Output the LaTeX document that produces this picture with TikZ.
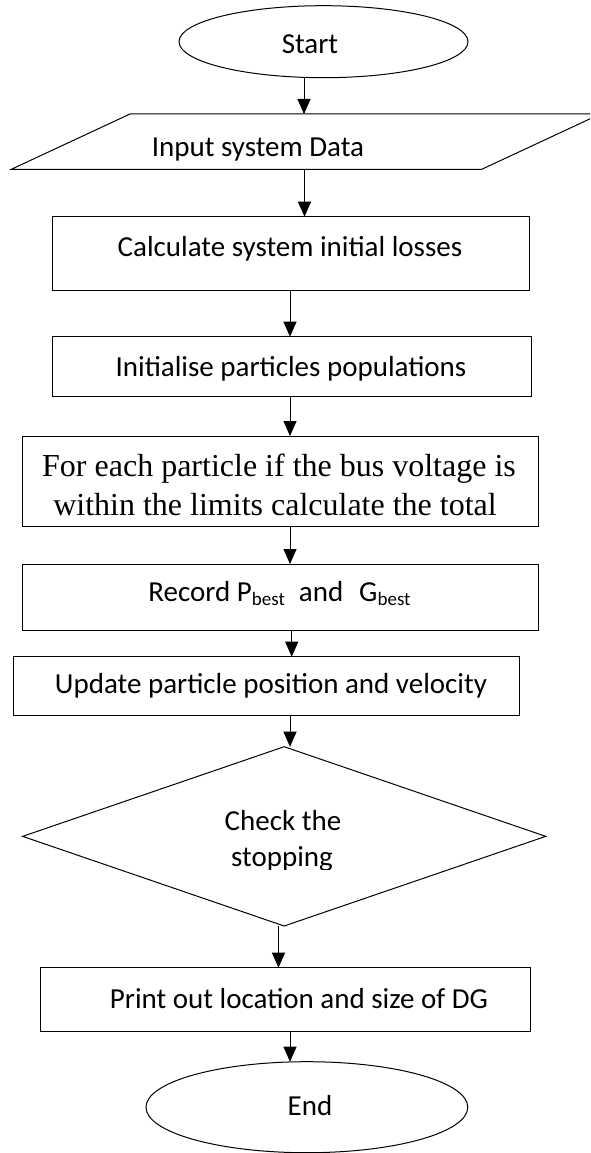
\documentclass[tikz,border=0pt]{standalone}
\usepackage{fontspec}
\setmainfont{Carlito}
\newfontfamily\tnr{Liberation Serif}
\usetikzlibrary{shapes.geometric,arrows.meta}
\newcommand\lowsub[1]{\raisebox{-4pt}{\fontsize{19}{20}\selectfont #1}}
\begin{document}
\begin{tikzpicture}[x=1pt,y=-1pt,
  ln/.style={line width=1pt},
  procbox/.style={ln, draw, rectangle, inner sep=0pt, outer sep=0pt},
  term/.style={ln, draw, ellipse, inner sep=0pt, outer sep=0pt},
  decis/.style={ln, draw, diamond, inner sep=0pt, outer sep=0pt},
  lbl/.style={inner sep=0pt, anchor=base, font=\fontsize{29}{35}\selectfont},
  slbl/.style={inner sep=0pt, anchor=base, font=\tnr\fontsize{32}{38}\selectfont},
  arr/.style={ln, -{Triangle[length=15pt,width=13pt]}}]
\useasboundingbox (0,0) rectangle (590,1153);
\clip (0,0) rectangle (590,1153);
\fill[white] (0,0) rectangle (590,1153);

% Start
\node[term, minimum width=289pt, minimum height=72pt] (start) at (323.5,41.7) {};
\node[lbl] (startT) at (310,54) {Start};

% Input (parallelogram)
\coordinate (inpTL) at (130,114);
\coordinate (inpTR) at (600.4,114);
\coordinate (inpBR) at (481.7,169.3);
\coordinate (inpBL) at (11.3,169.3);
\draw[ln] (inpTL) -- (inpTR) -- (inpBR) -- (inpBL) -- cycle;
\node[lbl] (inpT) at (258,156) {Input system Data};

% Calculate
\node[procbox, minimum width=476.8pt, minimum height=74pt] (calc) at (291.1,253.7) {};
\node[lbl] (calcT) at (290,256) {Calculate system initial losses};

% Initialise
\node[procbox, minimum width=478.3pt, minimum height=60pt] (init) at (291.85,366.7) {};
\node[lbl] (initT) at (291,376) {Initialise particles populations};

% For each
\node[procbox, minimum width=516.2pt, minimum height=90.7pt] (each) at (280.1,481.35) {};
\node[slbl] (eachA) at (279,476.7) {For each particle if the bus voltage is};
\node[slbl] (eachB) at (275,515) {within the limits calculate the total};

% Record
\node[procbox, minimum width=516.2pt, minimum height=66pt] (rec) at (280.1,597) {};
\node[lbl] (recT) at (279.5,601.7) {Record P\lowsub{best}\hspace{14pt}and\hspace{16pt}G\lowsub{best}};

% Update
\node[procbox, minimum width=506.2pt, minimum height=59pt] (upd) at (266.3,686.2) {};
\node[lbl] (updT) at (271,693) {Update particle position and velocity};

% Check
\node[decis, minimum width=523.1pt, minimum height=179.3pt] (chk) at (284.2,836.35) {};
\node[lbl] (chkA) at (283,830) {Check the};
\begin{scope}
\clip (0,0) rectangle (590,869.5);
\node[lbl] (chkB) at (282,866.7) {stopping};
\end{scope}

% Print
\node[procbox, minimum width=490.1pt, minimum height=63.3pt] (prt) at (285.65,999.35) {};
\node[lbl] (prtT) at (299,1008.3) {Print out location and size of DG};

% End
\node[term, minimum width=321.8pt, minimum height=91pt] (end) at (306.9,1107.2) {};
\node[lbl] (endT) at (310,1115) {End};

% connectors
\coordinate (a1) at (304,0);
\coordinate (a2) at (304.5,0);
\coordinate (a3) at (290,0);
\coordinate (a4) at (291.7,0);
\coordinate (a5) at (278.5,0);
\draw[arr] (a1 |- start.south) -- (a1 |- inpTL);
\draw[arr] (a2 |- inpBL) -- (a2 |- calc.north);
\draw[arr] (a3 |- calc.south) -- (a3 |- init.north);
\draw[arr] (a3 |- init.south) -- (a3 |- each.north);
\draw[arr] (a3 |- each.south) -- (a3 |- rec.north);
\draw[arr] (a4 |- rec.south) -- (a4 |- upd.north);
\draw[arr] (a3 |- upd.south) -- (a3 |- chk.north);
\draw[arr] (a5 |- chk.south) -- (a5 |- prt.north);
\draw[arr] (a3 |- prt.south) -- (a3 |- end.north);
\end{tikzpicture}
\end{document}
